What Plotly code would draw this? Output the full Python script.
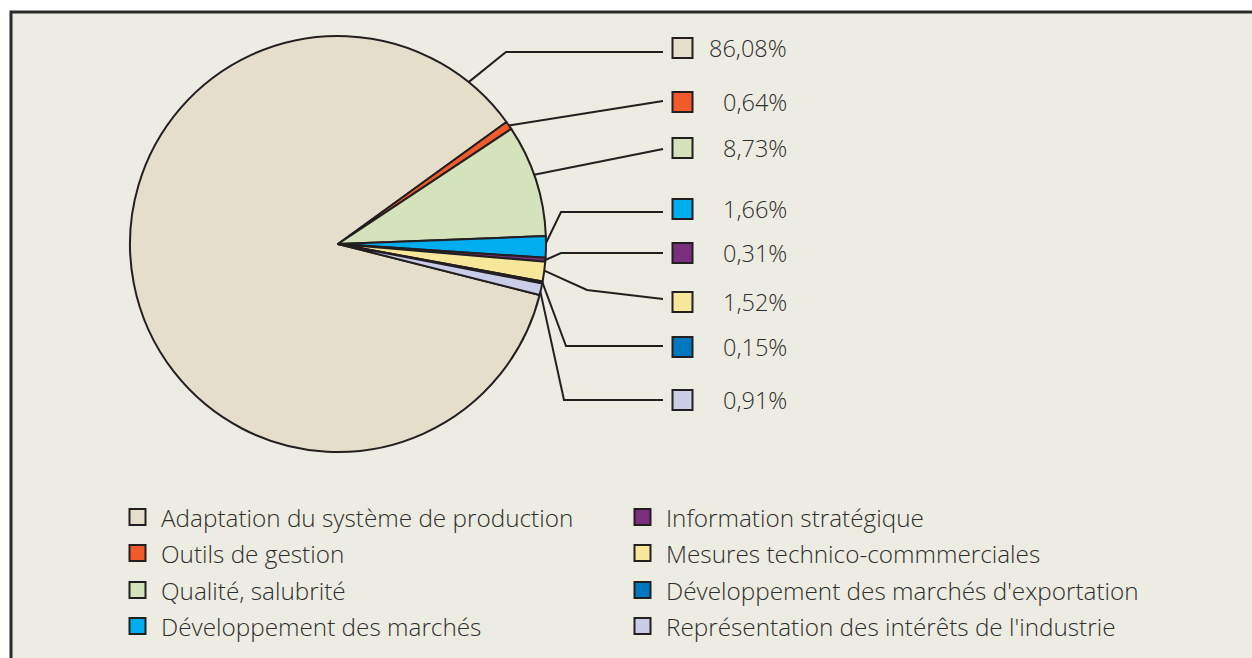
import math
import plotly.graph_objects as go

# ---- data ----
categories = [
    "Adaptation du système de production",
    "Outils de gestion",
    "Qualité, salubrité",
    "Développement des marchés",
    "Information stratégique",
    "Mesures technico-commmerciales",
    "Développement des marchés d'exportation",
    "Représentation des intérêts de l'industrie",
]
values = [86.08, 0.64, 8.73, 1.66, 0.31, 1.52, 0.15, 0.91]
colors = ["#E4DECB", "#F15A2B", "#D4E3BC", "#00AEEF", "#7B2D7E", "#F6E79A", "#0078C0", "#C9CDE8"]

# ---- layout constants (window pixels) ----
W, H = 1252, 658
CX, CY, R = 338, 244, 208
ROTATION = 104.2
EDGE = "#231F20"
TXT = "#2E2E2E"
FONT = "Open Sans"

label_sq_y = [48, 102, 148, 209, 253, 302, 347, 400]
leader_end_y = [52, 101, 149, 212, 253, 299, 346, 400]
elbow_x = [506, None, None, 561, 561, 587, 566, 564]
anchor_frac = [0.951, 0.5, 0.45, 0.32, 0.55, 0.45, 0.5, 0.73]
legend_rows = [517, 553, 590, 626]


def px(x):
    return x / W


def py(y):
    return 1 - y / H


fig = go.Figure()
fig.add_trace(go.Pie(
    labels=categories, values=values, sort=False, direction="clockwise",
    rotation=ROTATION, textinfo="none", hoverinfo="label+percent",
    marker=dict(colors=colors, line=dict(color=EDGE, width=2)),
    showlegend=False,
    domain=dict(x=[px(CX - R), px(CX + R)], y=[py(CY + R), py(CY - R)]),
))

shapes = []
annotations = []
# frame
shapes.append(dict(type="rect", xref="paper", yref="paper", layer="below",
                   x0=px(11), x1=px(1300), y0=py(720), y1=py(12),
                   fillcolor="#EDECE2", line=dict(color="#2B2B2B", width=3)))

total = sum(values)
a0 = 90 - ROTATION
cum = 0
for i, v in enumerate(values):
    span = 360 * v / total
    start = a0 - 360 * cum / total
    ang = math.radians(start - anchor_frac[i] * span)
    cum += v
    sx, sy = CX + R * math.cos(ang), CY - R * math.sin(ang)
    pts = [(sx, sy)]
    ey = leader_end_y[i]
    if elbow_x[i] is not None:
        pts.append((elbow_x[i], ey if i != 5 else 290))
    pts.append((663, ey))
    path = "M " + " L ".join(f"{px(x):.5f},{py(y):.5f}" for x, y in pts)
    shapes.append(dict(type="path", xref="paper", yref="paper", path=path,
                       line=dict(color=EDGE, width=2)))
    # label square
    yc = label_sq_y[i]
    shapes.append(dict(type="rect", xref="paper", yref="paper",
                       x0=px(672.5), x1=px(692.5), y0=py(yc + 10), y1=py(yc - 10),
                       fillcolor=colors[i], line=dict(color=EDGE, width=2)))
    annotations.append(dict(x=px(789), y=py(yc), xref="paper", yref="paper",
                            text=f"{v:.2f}".replace(".", ",") + "%", showarrow=False,
                            xanchor="right", yanchor="middle",
                            font=dict(family=FONT, size=23.5, color=TXT, weight=300)))
    # legend
    col = 0 if i < 4 else 1
    ly = legend_rows[i % 4]
    sqx = 129.5 if col == 0 else 634.5
    shapes.append(dict(type="rect", xref="paper", yref="paper",
                       x0=px(sqx), x1=px(sqx + 16), y0=py(ly + 8), y1=py(ly - 8),
                       fillcolor=colors[i], line=dict(color=EDGE, width=2)))
    annotations.append(dict(x=px(sqx + 29), y=py(ly), xref="paper", yref="paper",
                            text=categories[i], showarrow=False,
                            xanchor="left", yanchor="middle",
                            font=dict(family=FONT, size=24.3, color=TXT, weight=300)))

fig.update_layout(
    width=W, height=H, margin=dict(l=0, r=0, t=0, b=0),
    paper_bgcolor="white", shapes=shapes, annotations=annotations,
)
fig.write_html("out.html", config={"displayModeBar": False},
               post_script="document.body.style.margin='0';document.body.style.overflow='hidden';")
